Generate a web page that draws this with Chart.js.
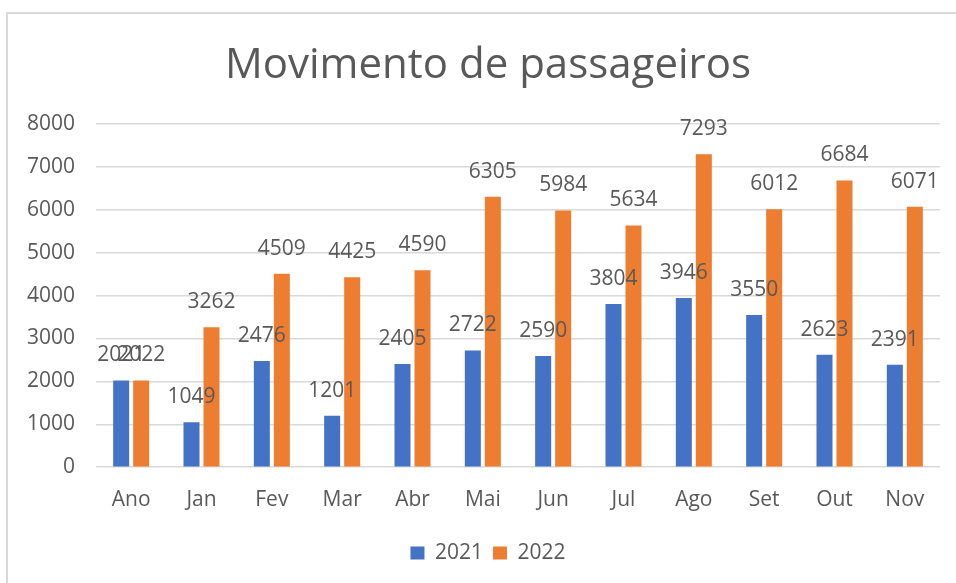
<!DOCTYPE html>
<html>
<head>
<meta charset="utf-8">
<script src="https://cdn.jsdelivr.net/npm/chart.js@4.4.0/dist/chart.umd.min.js"></script>
<style>
    body { margin: 0; background: #fff; }
    #frame { position: absolute; left: 6px; top: 12px; width: 1000px; height: 700px; border-left: 2px solid #d9d9d9; border-top: 2px solid #d9d9d9; }
    #bar-chart { position: absolute; left: 0; top: 0; }
</style>
</head>
<body>
<div id="frame"></div>
<canvas id="bar-chart" width="956" height="583"></canvas>
<script>
const labels = ['Ano', 'Jan', 'Fev', 'Mar', 'Abr', 'Mai', 'Jun', 'Jul', 'Ago', 'Set', 'Out', 'Nov'];
const values2021 = [2021, 1049, 2476, 1201, 2405, 2722, 2590, 3804, 3946, 3550, 2623, 2391];
const values2022 = [2022, 3262, 4509, 4425, 4590, 6305, 5984, 5634, 7293, 6012, 6684, 6071];

Chart.defaults.font.family = "'Open Sans', sans-serif";
Chart.defaults.color = '#595959';

// values written above each bar, like Excel "outside end" labels
const barLabels = {
    id: 'barLabels',
    afterDatasetsDraw(chart) {
        const ctx = chart.ctx;
        ctx.save();
        ctx.font = "21px 'Open Sans', sans-serif";
        ctx.fillStyle = '#595959';
        ctx.textAlign = 'center';
        ctx.textBaseline = 'middle';
        chart.data.datasets.forEach((ds, i) => {
            chart.getDatasetMeta(i).data.forEach((bar, j) => {
                ctx.fillText(ds.data[j], bar.x, bar.y - 25);
            });
        });
        ctx.restore();
    }
};

const ctx = document.getElementById('bar-chart').getContext('2d');
new Chart(ctx, {
    type: 'bar',
    data: {
        labels: labels,
        datasets: [{
            label: '2021',
            data: values2021,
            backgroundColor: '#4472C4',
            categoryPercentage: 0.569,
            barPercentage: 0.8
        }, {
            label: '2022',
            data: values2022,
            backgroundColor: '#ED7D31',
            categoryPercentage: 0.569,
            barPercentage: 0.8
        }]
    },
    options: {
        responsive: false,
        animation: false,
        devicePixelRatio: 1,
        layout: {
            padding: { left: 20, right: 0, top: 0, bottom: 9.4 }
        },
        plugins: {
            title: {
                display: true,
                text: 'Movimento de passageiros',
                color: '#595959',
                font: { size: 42, weight: 'normal' },
                padding: { top: 41, bottom: 32.6 }
            },
            legend: {
                position: 'bottom',
                labels: {
                    boxWidth: 14,
                    boxHeight: 13,
                    padding: 10,
                    color: '#595959',
                    font: { size: 21 }
                }
            },
            tooltip: { enabled: false }
        },
        scales: {
            x: {
                grid: { display: false },
                border: { display: false },
                ticks: { font: { size: 21 }, color: '#595959', padding: 12 },
                afterFit: scale => { scale.height = 65.4; }
            },
            y: {
                min: 0,
                max: 8000,
                ticks: {
                    stepSize: 1000,
                    font: { size: 21 },
                    color: '#595959',
                    padding: 21,
                    callback: value => String(value)
                },
                grid: { color: '#d9d9d9', lineWidth: 1.5, drawTicks: false },
                border: { display: false },
                afterFit: scale => { scale.width = 76; }
            },
            // empty right axis, only keeps the plot clear of the right edge
            yRight: {
                position: 'right',
                display: true,
                grid: { display: false },
                border: { display: false },
                ticks: { display: false },
                afterFit: scale => { scale.width = 16; }
            }
        }
    },
    plugins: [barLabels]
});
</script>
</body>
</html>
